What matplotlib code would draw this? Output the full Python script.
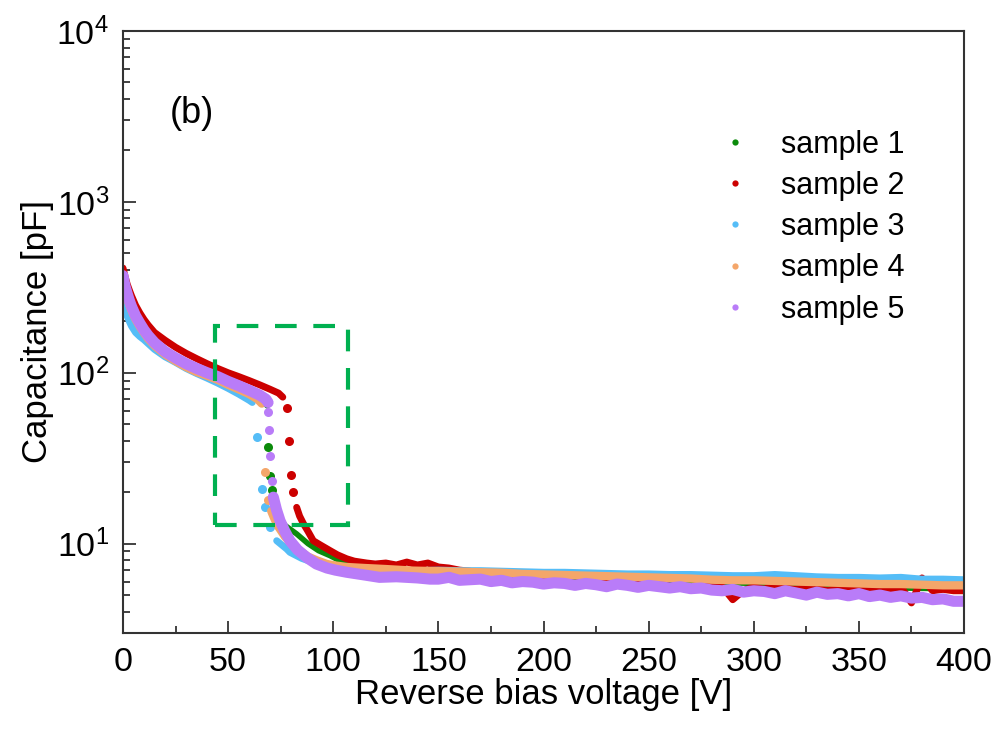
import numpy as np
import matplotlib
matplotlib.use("Agg")
import matplotlib.pyplot as plt
from matplotlib.lines import Line2D
from matplotlib.patches import Rectangle
from matplotlib.ticker import LogLocator, FixedLocator, MultipleLocator

plt.rcParams['font.family'] = ['Liberation Sans', 'DejaVu Sans']
plt.rcParams['mathtext.default'] = 'regular'

labels = ['sample 1', 'sample 2', 'sample 3', 'sample 4', 'sample 5']
colors = ['#0B8B0B', '#CC0000', '#55BDF7', '#F4A66A', '#B97CF8']

# --- sample 1 (green) ---
s1_v_hi = [0, 1, 2, 3, 4, 6, 8, 10, 12, 15, 20, 25, 30, 35, 40, 45, 50, 55, 60, 65, 68.6]
s1_c_hi = [355, 310, 282, 258, 240, 211, 192, 175, 162, 148, 131, 120, 111, 104, 98, 93, 87, 82, 77, 72, 64]
s1_v_drop = [68.8, 69.9, 70.7]
s1_c_drop = [37, 25, 20.5]
s1_v_lo = [72, 74, 77, 82.6, 88, 93, 98.5, 103, 108, 115, 120, 130, 140, 150, 170, 190, 210, 230,
           250, 270, 290, 310, 330, 350, 370, 390, 400]
s1_c_lo = [17, 14.5, 12.8, 11.4, 10, 9.1, 8.5, 7.96, 7.6, 7.3, 7.2, 7.0, 6.9, 6.8, 6.6, 6.45, 6.3, 6.2,
           6.1, 6.0, 5.9, 5.8, 5.7, 5.6, 5.5, 5.45, 5.4]

# --- sample 2 (red) ---
s2_v_hi = [0, 1, 2, 3, 4, 6, 8, 10, 12, 15, 20, 25, 30, 35, 40, 45, 50, 55, 60, 65, 70, 74, 76]
s2_c_hi = [410, 365, 330, 305, 283, 248, 224, 205, 190, 172, 155, 141, 130, 121, 113, 106, 100, 95, 90, 85, 80, 76, 72]
s2_v_drop = [77.9, 79.0, 79.9, 80.7]
s2_c_drop = [62, 40, 25.3, 20]
s2_v_lo = [82.6, 84, 85.8, 88, 90.5, 94, 98.5, 102, 106.4, 110, 115.9, 120, 125, 130, 135, 140, 145,
           150, 155, 160, 165, 170, 175, 180, 185, 190, 195, 200, 205, 210, 215, 220, 225, 230, 235,
           240, 245, 250, 255, 260, 265, 270, 275, 280, 285, 290, 295, 300, 305, 310, 315, 320, 325,
           330, 335, 340, 345, 350, 355, 360, 365, 370, 375, 380, 385, 390, 395, 400]
s2_c_lo = [16.3, 14.5, 13.1, 11.8, 10.4, 9.8, 9.1, 8.6, 8.15, 7.9, 7.7, 7.6, 7.7, 7.5, 7.8, 7.5, 7.7,
           7.3, 7.2, 7.0, 6.9, 6.3, 6.7, 6.1, 6.4, 6.6, 6.2, 6.0, 6.4, 6.1, 5.8, 6.2, 5.9, 6.0, 5.7,
           6.1, 5.8, 5.9, 6.0, 5.6, 5.8, 5.5, 5.9, 5.7, 5.6, 4.7, 5.3, 5.6, 5.4, 5.8, 5.5, 5.4, 5.6,
           5.5, 5.3, 5.5, 5.6, 5.4, 5.5, 5.3, 5.4, 5.6, 4.5, 6.3, 5.3, 5.4, 5.3, 5.3]

# --- sample 3 (blue) ---
s3_v_hi = [0, 1, 2, 3, 4, 6, 8, 10, 12, 15, 20, 25, 30, 35, 40, 45, 50, 55, 60, 61.5]
s3_c_hi = [262, 235, 215, 200, 188, 172, 163, 156, 148, 137, 124, 115, 106, 99, 93, 87, 81, 75, 69, 67]
s3_v_drop = [63.6, 66.0, 67.5, 69.9]
s3_c_drop = [42, 21, 16.3, 12.5]
s3_v_lo = [73.1, 77.9, 79.4, 85, 90, 95, 100, 110, 120, 130, 140, 150, 160, 170, 180, 190, 200, 210,
           220, 230, 240, 250, 260, 270, 280, 290, 300, 310, 320, 330, 340, 350, 360, 370, 380, 390, 400]
s3_c_lo = [10.4, 9.3, 8.9, 8.2, 7.8, 7.5, 7.3, 7.1, 7.0, 7.0, 6.95, 7.0, 6.95, 6.95, 6.9, 6.85, 6.8, 6.8,
           6.75, 6.7, 6.65, 6.65, 6.6, 6.6, 6.55, 6.5, 6.5, 6.6, 6.5, 6.4, 6.35, 6.35, 6.3, 6.35, 6.2, 6.2, 6.15]

# --- sample 4 (orange) ---
s4_v_hi = [0, 1, 2, 3, 4, 6, 8, 10, 12, 15, 20, 25, 30, 35, 40, 45, 50, 55, 60, 64, 66]
s4_c_hi = [345, 300, 272, 250, 232, 205, 186, 171, 158, 144, 128, 117, 108, 101, 96, 91, 85, 80, 75, 70, 66]
s4_v_drop = [67.5, 69.1]
s4_c_drop = [26.4, 17.9]
s4_v_lo = [70.5, 72, 74, 77, 80, 84, 88, 92, 97, 101, 106.4, 115, 125, 138, 150, 160, 170, 180, 190,
           200, 210, 220, 230, 240, 250, 260, 270, 280, 290, 300, 310, 320, 330, 340, 350, 360, 370,
           380, 390, 400]
s4_c_lo = [15.5, 14, 12.5, 11, 10, 9.1, 8.4, 8.0, 7.6, 7.45, 7.3, 7.2, 7.1, 6.95, 6.9, 6.85, 6.8, 6.75,
           6.65, 6.6, 6.55, 6.5, 6.45, 6.4, 6.35, 6.3, 6.25, 6.15, 6.1, 6.1, 6.05, 6.0, 5.95, 5.9, 5.85,
           5.8, 5.8, 5.75, 5.7, 5.7]

# --- sample 5 (purple) ---
s5_v_hi = [0, 1, 2, 3, 4, 6, 8, 10, 12, 15, 20, 25, 30, 35, 40, 45, 50, 55, 60, 65, 68, 69]
s5_c_hi = [370, 320, 290, 265, 245, 215, 195, 178, 165, 150, 133, 122, 113, 106, 100, 95, 89, 84, 79, 74, 70, 67]
s5_v_drop = [69.1, 69.6, 69.9, 70.7]
s5_c_drop = [59, 46, 32.4, 23.2]
s5_v_lo = [71.5, 73, 74.7, 77, 79.4, 83, 87.4, 92, 97, 101, 106.4, 115, 122, 130, 140, 146, 150, 155,
           160, 165, 170, 175, 180, 185, 190, 195, 200, 205, 210, 215, 220, 225, 230, 235, 240, 245,
           250, 255, 260, 265, 270, 275, 280, 285, 290, 295, 300, 305, 310, 315, 320, 325, 330, 335,
           340, 345, 350, 355, 360, 365, 370, 375, 380, 385, 390, 395, 400]
s5_c_lo = [18.7, 15.8, 13.6, 11.8, 10.4, 9.2, 8.3, 7.6, 7.2, 7.0, 6.8, 6.55, 6.35, 6.4, 6.3, 6.2, 6.2, 6.35,
           6.1, 6.15, 6.2, 6.0, 6.1, 5.9, 6.0, 5.95, 5.8, 5.9, 5.85, 5.7, 5.85, 5.75, 5.6, 5.8, 5.7, 5.55,
           5.7, 5.6, 5.5, 5.6, 5.45, 5.5, 5.35, 5.3, 5.4, 5.2, 5.3, 5.25, 5.1, 5.3, 5.15, 5.0, 5.2, 5.05,
           5.1, 4.95, 5.1, 4.9, 5.0, 4.85, 4.95, 4.8, 4.85, 4.7, 4.75, 4.6, 4.6]

series = [
    (s1_v_hi, s1_c_hi, s1_v_drop, s1_c_drop, s1_v_lo, s1_c_lo, 4.0),
    (s2_v_hi, s2_c_hi, s2_v_drop, s2_c_drop, s2_v_lo, s2_c_lo, 5.0),
    (s3_v_hi, s3_c_hi, s3_v_drop, s3_c_drop, s3_v_lo, s3_c_lo, 5.0),
    (s4_v_hi, s4_c_hi, s4_v_drop, s4_c_drop, s4_v_lo, s4_c_lo, 6.0),
    (s5_v_hi, s5_c_hi, s5_v_drop, s5_c_drop, s5_v_lo, s5_c_lo, 8.0),
]

# highlighted region (dashed box)
box_v = [43.8, 107.2]
box_c = [12.8, 187]

fig = plt.figure(figsize=(9.99, 7.29), dpi=100)
ax = fig.add_axes([0.1231, 0.1317, 0.8419, 0.8258])

for (vh, ch, vd, cd, vl, cl, lw), col in zip(series, colors):
    ax.plot(vh, ch, '-', color=col, lw=lw, solid_capstyle='round', solid_joinstyle='round')
    ax.plot(vl, cl, '-', color=col, lw=lw, solid_capstyle='round', solid_joinstyle='round')
    ax.plot(vd, cd, 'o', color=col, ms=6.5, mec='none')

ax.add_patch(Rectangle((box_v[0], box_c[0]), box_v[1] - box_v[0], box_c[1] - box_c[0],
                       fill=False, ec='#00B050', lw=3, ls=(0, (5.2, 4)), zorder=5))

ax.set_yscale('log')
ax.set_xlim(0, 400)
ax.set_ylim(3, 1e4)
ax.xaxis.set_major_locator(MultipleLocator(50))
ax.xaxis.set_minor_locator(MultipleLocator(25))
ax.yaxis.set_major_locator(FixedLocator([10, 100, 1000, 10000]))
ax.yaxis.set_minor_locator(LogLocator(base=10, subs=np.arange(2, 10), numticks=20))
ax.set_yticklabels(['$10^{1}$', '$10^{2}$', '$10^{3}$', '$10^{4}$'])

ax.tick_params(which='both', direction='in', top=False, right=False, colors='#222222',
               labelcolor='black', labelsize=24.5)
ax.tick_params(which='major', length=9, width=1.2)
ax.tick_params(which='minor', length=5, width=1.2)
ax.tick_params(axis='x', pad=10)
ax.tick_params(axis='y', pad=10)
for sp in ax.spines.values():
    sp.set_linewidth(1.5)
    sp.set_color('#333333')

ax.set_xlabel('Reverse bias voltage [V]', fontsize=25, labelpad=0)
ax.set_ylabel('Capacitance [pF]', fontsize=25, labelpad=2)

ax.text(33, 3300, '(b)', fontsize=26, ha='center', va='center')

handles = [Line2D([], [], ls='none', marker='o', ms=4.5, mec='none', color=c) for c in colors]
ax.legend(handles, labels, loc='upper left', bbox_to_anchor=(0.6766, 0.882), frameon=False,
          fontsize=22, handlelength=1.0, handletextpad=1.0, labelspacing=0.37, borderpad=0.4)

fig.savefig('out.png', dpi=100)
